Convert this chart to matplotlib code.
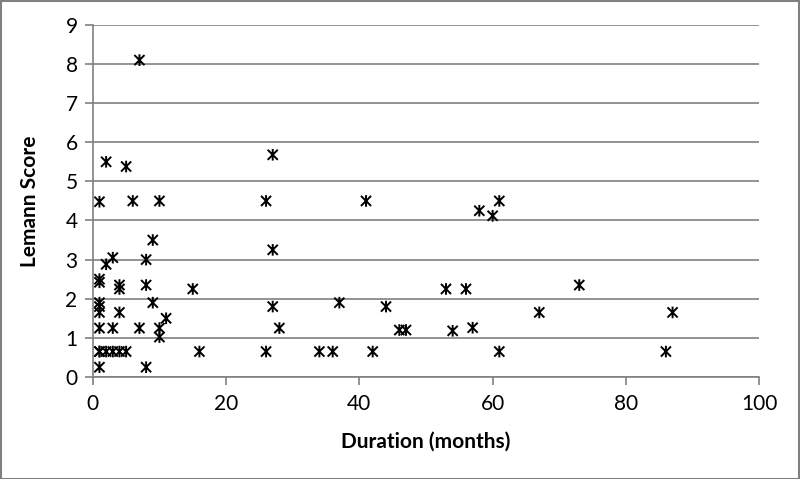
import numpy as np
import matplotlib.pyplot as plt
from matplotlib.path import Path
from matplotlib.patches import Rectangle

# Duration (months) and Lemann score
duration = [7, 2, 5, 1, 6, 10, 9, 3, 2, 8,
            1, 1, 4, 4, 8, 15,
            1, 1, 1, 9, 4, 11,
            1, 3, 7, 10, 10,
            1, 1, 2, 3, 4, 5, 16, 1, 8,
            27, 26, 41, 27, 27, 37, 44, 28, 46, 47,
            26, 34, 36, 42,
            61, 58, 60, 53, 56, 73, 67, 54, 57, 61,
            87, 86]
score = [8.1, 5.5, 5.38, 4.48, 4.5, 4.5, 3.5, 3.05, 2.88, 3.0,
         2.5, 2.42, 2.35, 2.25, 2.35, 2.25,
         1.9, 1.8, 1.65, 1.9, 1.65, 1.5,
         1.25, 1.25, 1.25, 1.25, 1.02,
         0.65, 0.65, 0.65, 0.65, 0.65, 0.65, 0.65, 0.25, 0.25,
         5.68, 4.5, 4.5, 3.25, 1.8, 1.9, 1.8, 1.25, 1.2, 1.2,
         0.65, 0.65, 0.65, 0.65,
         4.5, 4.25, 4.12, 2.25, 2.25, 2.35, 1.65, 1.18, 1.26, 0.65,
         1.65, 0.65]

x_ticks = [0, 20, 40, 60, 80, 100]
y_ticks = list(range(10))

# Excel-style star: an X with a vertical stroke
star = Path([(-1, -1), (1, 1), (-1, 1), (1, -1), (0, -1.15), (0, 1.15)],
            [Path.MOVETO, Path.LINETO, Path.MOVETO, Path.LINETO, Path.MOVETO, Path.LINETO])

plt.rcParams['font.family'] = ['Lato', 'DejaVu Sans']

fig = plt.figure(figsize=(8, 4.79), dpi=100)
ax = fig.add_axes([0.116, 0.213, 0.833, 0.735])

ax.scatter(duration, score, marker=star, s=70, facecolors='none',
           edgecolors='black', linewidths=1.4, zorder=3)

ax.set_xlim(0, 100)
ax.set_ylim(0, 9)
ax.set_xticks(x_ticks)
ax.set_yticks(y_ticks)
ax.grid(axis='y', color='#808080', linewidth=1.2)
ax.set_axisbelow(True)

for side in ['top', 'right']:
    ax.spines[side].set_visible(False)
for side in ['left', 'bottom']:
    ax.spines[side].set_color('#808080')
    ax.spines[side].set_linewidth(1.2)

ax.tick_params(axis='both', colors='#808080', length=6, width=1.2, labelsize=15,
               labelcolor='black')
ax.tick_params(axis='x', pad=6)
ax.tick_params(axis='y', pad=5)

ax.set_xlabel('Duration (months)', fontsize=15, fontweight='bold', labelpad=13)
ax.set_ylabel('Lemann Score', fontsize=15, fontweight='bold', labelpad=18)

# thin border around the whole picture
fig.patches.append(Rectangle((0.001, 0.001), 0.998, 0.997, transform=fig.transFigure,
                             fill=False, edgecolor='#808080', linewidth=1.5))

fig.savefig('out.png', dpi=100)
